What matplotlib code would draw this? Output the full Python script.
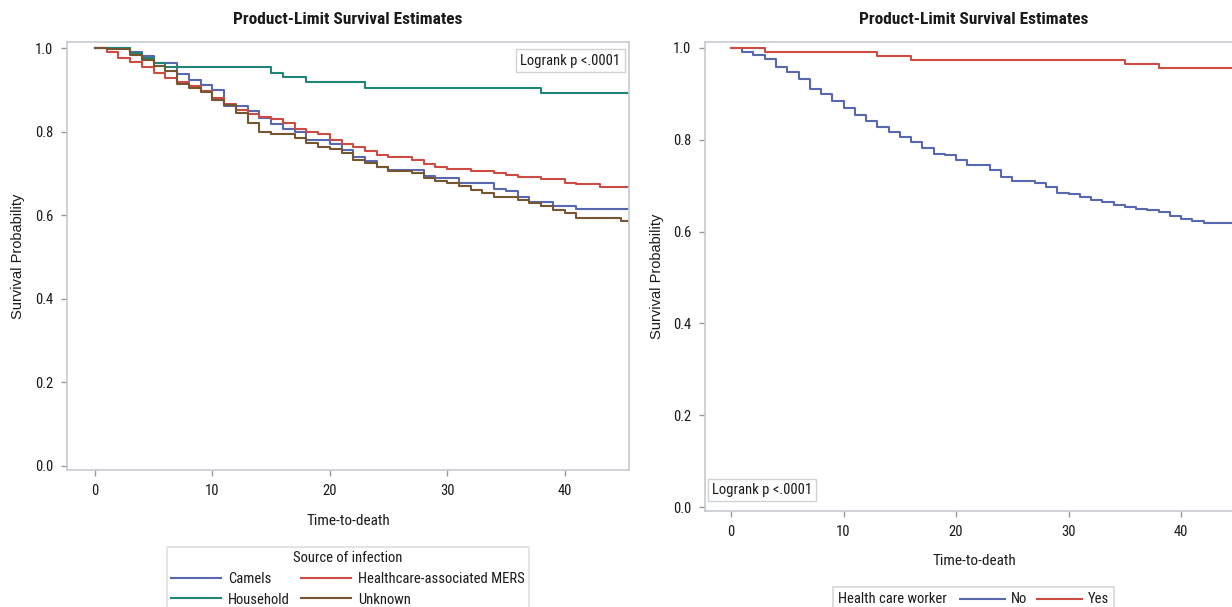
import os
import matplotlib
matplotlib.use("Agg")
import matplotlib.pyplot as plt
from matplotlib import font_manager
from matplotlib.font_manager import FontProperties
from matplotlib.lines import Line2D
from matplotlib.patches import Rectangle

# ---------------- data ----------------
# Left panel: Source of infection (Kaplan-Meier step curves)
camels_t = [0, 3, 4, 5, 7, 8, 9, 10, 11, 13, 14, 15, 16, 17, 18, 20, 21, 22, 23, 24, 25,
            28, 29, 31, 34, 35, 36, 37, 39, 41, 45.4]
camels_s = [1.0, 0.991, 0.981, 0.965, 0.939, 0.923, 0.911, 0.899, 0.862, 0.850, 0.832, 0.818,
            0.806, 0.798, 0.780, 0.770, 0.756, 0.740, 0.730, 0.716, 0.708, 0.694, 0.690, 0.678,
            0.662, 0.658, 0.643, 0.632, 0.622, 0.615, 0.615]

hcw_assoc_t = [0, 1, 2, 3, 4, 5, 6, 7, 8, 9, 10, 11, 12, 13, 14, 15, 16, 17, 18, 19, 20, 21,
               22, 23, 24, 25, 27, 28, 29, 30, 32, 34, 35, 36, 38, 40, 41, 43, 45.4]
hcw_assoc_s = [1.0, 0.990, 0.977, 0.967, 0.955, 0.940, 0.928, 0.918, 0.908, 0.898, 0.880,
               0.866, 0.852, 0.843, 0.836, 0.830, 0.820, 0.806, 0.800, 0.794, 0.780, 0.770,
               0.762, 0.754, 0.744, 0.740, 0.732, 0.722, 0.716, 0.711, 0.706, 0.700, 0.696,
               0.692, 0.687, 0.678, 0.674, 0.668, 0.668]

household_t = [0, 3, 4, 5, 6, 15, 16, 18, 23, 38, 45.4]
household_s = [1.0, 0.987, 0.975, 0.965, 0.954, 0.941, 0.931, 0.918, 0.905, 0.892, 0.892]

unknown_t = [0, 1, 3, 4, 5, 6, 7, 8, 9, 10, 11, 12, 13, 14, 15, 17, 18, 19, 20, 21, 22, 23,
             24, 25, 27, 28, 29, 30, 31, 32, 33, 34, 36, 37, 38, 39, 40, 41, 44.8, 45.4]
unknown_s = [1.0, 0.997, 0.984, 0.971, 0.957, 0.945, 0.915, 0.904, 0.895, 0.875, 0.864, 0.844,
             0.820, 0.800, 0.794, 0.784, 0.772, 0.764, 0.758, 0.748, 0.732, 0.724, 0.716,
             0.706, 0.700, 0.688, 0.682, 0.676, 0.670, 0.660, 0.652, 0.644, 0.636, 0.630,
             0.622, 0.612, 0.605, 0.593, 0.587, 0.587]

# Right panel: Health care worker
no_t = [0, 1, 2, 3, 4, 5, 6, 7, 8, 9, 10, 11, 12, 13, 14, 15, 16, 17, 18, 19, 20, 21, 22,
        23, 24, 25, 27, 28, 29, 30, 31, 32, 33, 34, 35, 36, 37, 38, 39, 40, 41, 42, 46]
no_s = [1.0, 0.992, 0.984, 0.977, 0.959, 0.948, 0.932, 0.911, 0.899, 0.885, 0.870, 0.855,
        0.840, 0.828, 0.816, 0.805, 0.795, 0.782, 0.770, 0.766, 0.757, 0.746, 0.745, 0.734,
        0.719, 0.710, 0.705, 0.698, 0.685, 0.681, 0.676, 0.669, 0.665, 0.658, 0.654, 0.650,
        0.647, 0.643, 0.634, 0.628, 0.623, 0.619, 0.615]
yes_t = [0, 3, 13, 16, 35, 38, 46]
yes_s = [1.0, 0.991, 0.983, 0.973, 0.964, 0.957, 0.957]

left_labels = ["Camels", "Healthcare-associated MERS", "Household", "Unknown"]
right_title = "Health care worker"
right_labels = ["No", "Yes"]
x_ticks = [0, 10, 20, 30, 40]
y_ticks = [0.0, 0.2, 0.4, 0.6, 0.8, 1.0]

# ---------------- fonts ----------------
files = set(font_manager.findSystemFonts()) | {f.fname for f in font_manager.fontManager.ttflist}
by_base = {os.path.basename(p).lower(): p for p in files}


def pick(cands):
    for c in cands:
        if c.lower() in by_base:
            return by_base[c.lower()]
    return None


narrow_reg = pick(["LiberationSansNarrow-Regular.ttf", "RobotoCondensed-Regular.ttf",
                   "DejaVuSansCondensed.ttf", "LiberationSans-Regular.ttf"])
narrow_bold = pick(["LiberationSansNarrow-Bold.ttf", "RobotoCondensed-Bold.ttf",
                    "DejaVuSansCondensed-Bold.ttf", "LiberationSans-Bold.ttf"])
regular_file = pick(["LiberationSans-Regular.ttf", "Arimo-Regular.ttf"])


def fp(path, size, fallback_family="DejaVu Sans", weight="normal"):
    if path:
        return FontProperties(fname=path, size=size)
    return FontProperties(family=fallback_family, size=size, weight=weight)


F_TICK = fp(narrow_reg, 10.5)
F_TITLE = fp(narrow_bold, 12.5, weight="bold")
F_XLAB = fp(narrow_reg, 11)
F_YLAB = fp(regular_file, 10.5)
F_LEG = fp(narrow_reg, 10.5)
F_BOX = fp(narrow_reg, 10.5)

C_BLUE = "#5868b0"
C_RED = "#cc4b42"
C_TEAL = "#1f8575"
C_BROWN = "#765631"
SPINE = "#c6cbcf"
FRAME = "#d4d8db"
TXT = "#1a1a1a"

W, H = 1232, 607
fig = plt.figure(figsize=(W / 100, H / 100), dpi=100)


def fx(px):
    return px / W


def fy(py):
    return 1 - py / H


def style_axes(ax, top_px, bot_px, left_px, title_y_px, xlab_y_px, ylab_x_px):
    for sp in ax.spines.values():
        sp.set_color(SPINE)
        sp.set_linewidth(1.2)
    ax.tick_params(axis="both", direction="out", length=4, width=1, color="#9a9a9a",
                   labelcolor=TXT, pad=6)
    ax.set_xticks(x_ticks)
    ax.set_yticks(y_ticks)
    ax.set_xticklabels([str(v) for v in x_ticks])
    ax.set_yticklabels([f"{v:.1f}" for v in y_ticks])
    for lbl in ax.get_xticklabels() + ax.get_yticklabels():
        lbl.set_fontproperties(F_TICK)
    h = bot_px - top_px
    bb = ax.get_position()
    wpx = bb.width * W
    ax.text(0.5, 1 + (top_px - title_y_px) / h, "Product-Limit Survival Estimates",
            transform=ax.transAxes, ha="center", va="center", fontproperties=F_TITLE,
            color=TXT)
    ax.set_xlabel("Time-to-death", fontproperties=F_XLAB, color=TXT)
    ax.xaxis.set_label_coords(0.5, (bot_px - xlab_y_px) / h)
    ax.xaxis.label.set_va("center")
    ax.set_ylabel("Survival Probability", fontproperties=F_YLAB, color=TXT)
    ax.yaxis.set_label_coords((ylab_x_px - left_px) / wpx, 0.5)
    ax.yaxis.label.set_va("center")


# ---------------- left panel ----------------
lw = 1.5
axL = fig.add_axes([fx(67), fy(470), (629 - 67) / W, (470 - 42) / H])
axL.step(camels_t, camels_s, where="post", color=C_BLUE, lw=lw, label=left_labels[0])
axL.step(hcw_assoc_t, hcw_assoc_s, where="post", color=C_RED, lw=lw, label=left_labels[1])
axL.step(household_t, household_s, where="post", color=C_TEAL, lw=lw, label=left_labels[2])
axL.step(unknown_t, unknown_s, where="post", color=C_BROWN, lw=lw, label=left_labels[3])
axL.set_xlim(-2.385, 45.49)
axL.set_ylim(-0.0096, 1.0144)
style_axes(axL, 42, 470, 67, 20, 521, 18)
axL.text(0.985, 0.973, "Logrank p <.0001", transform=axL.transAxes, ha="right", va="top",
         fontproperties=F_BOX, color=TXT,
         bbox=dict(boxstyle="square,pad=0.3", fc="white", ec="#cfd3d6", lw=1))

hmap = {left_labels[0]: C_BLUE, left_labels[1]: C_RED, left_labels[2]: C_TEAL,
        left_labels[3]: C_BROWN}
# matplotlib fills legends column-wise; order so rows read like the reference
order = [left_labels[0], left_labels[2], left_labels[1], left_labels[3]]
handles_l = [Line2D([], [], color=hmap[k], lw=1.5) for k in order]
legL = fig.legend(handles_l, order, ncol=2, loc="upper center",
                  bbox_to_anchor=(fx(348), fy(547)), title="Source of infection",
                  prop=F_LEG, title_fontproperties=F_LEG,
                  frameon=True, fancybox=False, edgecolor=FRAME, handlelength=3.4,
                  handletextpad=0.5, columnspacing=0.8, labelspacing=0.45, borderpad=0.3,
                  borderaxespad=0)
legL.get_frame().set_linewidth(1.2)
legL.get_title().set_color(TXT)
for t in legL.get_texts():
    t.set_color(TXT)

# ---------------- right panel ----------------
axR = fig.add_axes([fx(705), fy(511), (1243 - 705) / W, (511 - 42) / H])
axR.step(no_t, no_s, where="post", color=C_BLUE, lw=lw, label=right_labels[0])
axR.step(yes_t, yes_s, where="post", color=C_RED, lw=lw, label=right_labels[1])
axR.set_xlim(-2.31, 45.5)
axR.set_ylim(-0.0087, 1.013)
style_axes(axR, 42, 511, 705, 20, 561, 657)
axR.text(0.013, 0.03, "Logrank p <.0001", transform=axR.transAxes, ha="left", va="bottom",
         fontproperties=F_BOX, color=TXT,
         bbox=dict(boxstyle="square,pad=0.3", fc="white", ec="#cfd3d6", lw=1))

# inline legend (title on the same row as the entries)
fig.add_artist(Rectangle((fx(833), fy(625)), (1114 - 833) / W, (625 - 587) / H,
                         transform=fig.transFigure, fc="white", ec=FRAME, lw=1.2))
row_y = fy(599)
fig.text(fx(838), row_y, right_title, ha="left", va="center", fontproperties=F_LEG, color=TXT)
for (x0, x1, xt), col, lab in zip([(960, 1005, 1011), (1037, 1082, 1088)],
                                  [C_BLUE, C_RED], right_labels):
    fig.add_artist(Line2D([fx(x0), fx(x1)], [row_y, row_y], transform=fig.transFigure,
                          color=col, lw=1.5))
    fig.text(fx(xt), row_y, lab, ha="left", va="center", fontproperties=F_LEG, color=TXT)

fig.savefig("out.png", dpi=100, facecolor="white")
